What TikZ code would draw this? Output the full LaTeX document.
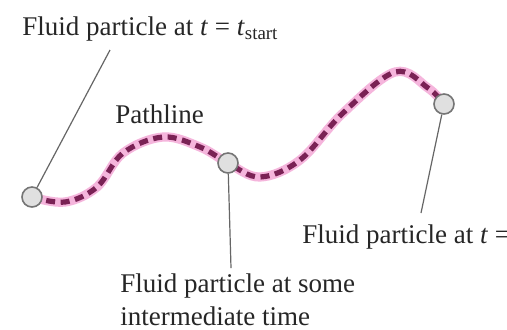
\documentclass[tikz,border=0pt]{standalone}
\usepackage{fontspec}
\setmainfont{Liberation Serif}
\definecolor{pathdark}{HTML}{7A2255}
\definecolor{pathglow}{HTML}{F5B5DC}
\definecolor{leadgray}{HTML}{666666}
\tikzset{
  particle/.style={circle, draw=leadgray!90, line width=0.8pt, fill=black!12, minimum size=10pt, inner sep=0pt},
  leader/.style={draw=leadgray, line width=0.6pt},
  lbl/.style={anchor=base west, inner sep=0pt, text=black!85, font=\fontsize{13.5}{16.5}\selectfont, align=left}
}
\begin{document}
\begin{tikzpicture}[x=0.5pt, y=-0.5pt]
            % Cadre
            \clip (0,0) rectangle (507,329);
            \fill[white] (0,0) rectangle (507,329);

            % Points de la ligne de trajectoire
            \coordinate (P1) at (32,197);
            \coordinate (P2) at (228,163);
            \coordinate (P3) at (444,104);
            \coordinate (a1) at (65,202);
            \coordinate (a2) at (97,187);
            \coordinate (a3) at (123,153);
            \coordinate (a4) at (163,137);
            \coordinate (a5) at (200,147);
            \coordinate (b1) at (260,177);
            \coordinate (b2) at (300,160);
            \coordinate (b3) at (343,113);
            \coordinate (b4) at (395,72);
            \coordinate (b5) at (428,88);

            % Extrémités libres des traits de rappel
            \coordinate (L1) at (110,50);
            \coordinate (L2) at (231,268);
            \coordinate (L3) at (421,213);

            % Ligne de trajectoire (halo puis tirets)
            \draw[pathglow, line width=4.6pt, line cap=round] plot[smooth, tension=0.6] coordinates {(P1) (a1) (a2) (a3) (a4) (a5) (P2) (b1) (b2) (b3) (b4) (b5) (P3)};
            \draw[pathdark, line width=2.6pt, dash pattern=on 4.5pt off 2.8pt] plot[smooth, tension=0.6] coordinates {(P1) (a1) (a2) (a3) (a4) (a5) (P2) (b1) (b2) (b3) (b4) (b5) (P3)};

            % Particules
            \node[particle] (start) at (P1) {};
            \node[particle] (mid) at (P2) {};
            \node[particle] (end) at (P3) {};

            % Traits de rappel
            \draw[leader] (L1) -- (start);
            \draw[leader] (mid) -- (L2);
            \draw[leader] (end) -- (L3);

            % Étiquettes
            \node[lbl] (lblstart) at (22,35) {Fluid particle at \textit{t} = \textit{t}\textsubscript{start}};
            \node[lbl] (lblpath) at (115,123) {Pathline};
            \node[lbl] (lblmid) at (120,325) {Fluid particle at some\\intermediate time};
            \node[lbl] (lblend) at (302,243) {Fluid particle at \textit{t} = \textit{t}\textsubscript{end}};

\end{tikzpicture}
\end{document}
